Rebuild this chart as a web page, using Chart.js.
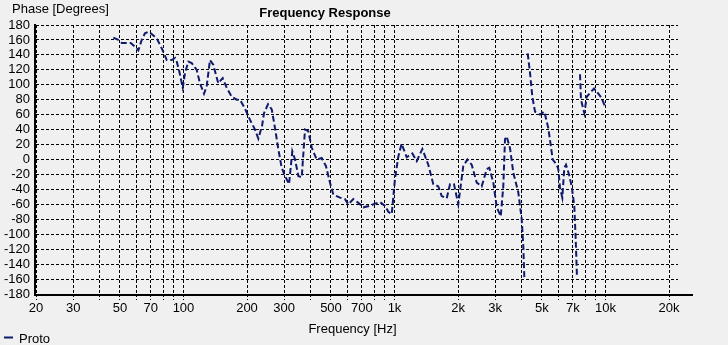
<!DOCTYPE html>
<html>
<head>
<meta charset="utf-8">
<script src="https://cdn.jsdelivr.net/npm/chart.js@4"></script>
<style>
  html, body { margin: 0; padding: 0; background: #f0f0f0; }
  #wrap { width: 728px; height: 345px; position: relative; }
</style>
</head>
<body>
<div id="wrap"><canvas id="myChart" width="728" height="345"></canvas></div>
<script>
// frequency points [Hz] (null phase = line break at phase wrap)
var freqHz = [
  46.5, 49.1, 51.0, 53.8, 56.2, 58.9, 61.1, 63.4, 65.7, 68.1,
  70.7, 74.7, 78.2, 80.9, 83.3, 87.9, 91.2, 92.9, 95.5, 99.2,
  101.7, 105.4, 109.4, 115.5, 119.7, 125.1, 128.8, 133.5, 138.4, 142.6,
  146.2, 153.4, 160.3, 169.3, 178.8, 185.3, 195.7, 206.7, 218.3, 226.3,
  235.7, 240.8, 251.6, 262.0, 271.5, 281.4, 292.0, 302.8, 316.4, 327.9,
  337.8, 350.2, 363.4, 376.6, 390.4, 405.2, 427.8, 451.8, 473.6, 494.8,
  512.9, 551.8, 582.9, 604.2, 638.1, 673.9, 711.7, 765.7, 808.7, 854.0,
  901.9, 935.0, 970.4, 1006, 1043, 1080, 1143, 1215, 1275, 1355,
  1446, 1527, 1613, 1674, 1768, 1833, 1914, 2006, 2118, 2214,
  2322, 2454, 2590, 2736, 2814, 2940, 3052, 3188, 3278, 3340,
  3402, 3528, 3658, 3862, 4008, 4078, 4124, 4140,
  4278, 4388, 4500, 4634, 4894, 5130, 5358, 5622, 5874, 5976,
  6088, 6242, 6380, 6498, 6716, 6916, 7114, 7224, 7328, 7400,
  7572, 7654, 7936, 8148, 8446, 8822, 9188, 9596, 9948
];
var phaseDeg = [
  163, 160, 156, 156, 156, 151, 146, 160, 169, 171,
  168, 162, 151, 142, 133, 133, 136, 131, 118, 96,
  116, 131, 129, 120, 102, 88, 98, 133, 127, 113,
  102, 109, 96, 84, 80, 80, 68, 53, 40, 28,
  45, 62, 74, 67, 42, 14, -11, -22, -33, 11,
  0, -22, -24, 40, 38, 16, 0, 2, -9, -31,
  -47, -51, -53, -60, -53, -58, -64, -62, -59, -57,
  -62, -70, -73, -25, 4, 21, 3, 8, -2, 14,
  -7, -33, -36, -49, -52, -33, -33, -60, -9, 0,
  -7, -31, -36, -13, -11, -31, -64, -76, -36, 27,
  31, 15, -18, -44, -80, -116, -158, null,
  142, 116, 84, 64, 60, 64, 42, 0, -7, -13,
  -38, -51, -11, -7, -20, -36, -62, -107, -158, null,
  114, 80, 62, 84, 89, 95, 89, 82, 71
];

// axis ticks
var gridFreqs = [20, 30, 40, 50, 60, 70, 80, 90, 100, 200, 300, 400, 500, 600, 700, 800, 900,
  1000, 2000, 3000, 4000, 5000, 6000, 7000, 8000, 9000, 10000, 20000];
var labelFreqs = [20, 30, 50, 70, 100, 200, 300, 500, 700, 1000, 2000, 3000, 5000, 7000, 10000, 20000];
var labelTexts = ['20', '30', '50', '70', '100', '200', '300', '500', '700', '1k', '2k', '3k', '5k', '7k', '10k', '20k'];
var seriesName = 'Proto';

var lineColor = '#101a6c';
var fontName = '"Liberation Sans", Arial, sans-serif';

// title, axis titles, legend and the black axis lines
var extras = {
    id: 'extras',
    afterDraw: function(chart) {
        var c = chart.ctx;
        var a = chart.chartArea;
        c.save();
        c.strokeStyle = '#000';
        c.lineWidth = 2;
        c.beginPath();
        c.moveTo(a.left - 1, a.top - 1);
        c.lineTo(a.left - 1, a.bottom + 1);
        c.lineTo(a.right + 15, a.bottom + 1);
        c.stroke();

        c.fillStyle = '#000';
        c.textBaseline = 'middle';
        c.font = 'bold 13px ' + fontName;
        c.textAlign = 'center';
        c.fillText('Frequency Response', 325, 13);

        c.font = '13px ' + fontName;
        c.textAlign = 'left';
        c.fillText('Phase [Degrees]', 12, 9);
        c.textAlign = 'center';
        c.fillText('Frequency [Hz]', (a.left + 669) / 2, 329);

        c.strokeStyle = lineColor;
        c.lineWidth = 2;
        c.beginPath();
        c.moveTo(4, 337.5);
        c.lineTo(13, 337.5);
        c.stroke();
        c.textAlign = 'left';
        c.fillText(seriesName, 19, 339);
        c.restore();
    }
};

var ctx = document.getElementById('myChart').getContext('2d');
var myChart = new Chart(ctx, {
    type: 'line',
    data: {
        datasets: [{
            label: seriesName,
            data: freqHz.map(function(f, i) { return { x: f, y: phaseDeg[i] }; }),
            borderColor: lineColor,
            borderWidth: 2,
            borderDash: [6, 3],
            pointRadius: 0,
            fill: false,
            spanGaps: false,
            tension: 0
        }]
    },
    options: {
        responsive: false,
        animation: false,
        layout: { padding: { top: 25, right: 50, left: 0, bottom: 0 } },
        plugins: {
            legend: { display: false },
            title: { display: false },
            tooltip: { enabled: false }
        },
        scales: {
            x: {
                type: 'logarithmic',
                min: 20,
                max: 22060,
                afterBuildTicks: function(scale) {
                    scale.ticks = gridFreqs.map(function(v) { return { value: v }; });
                },
                afterFit: function(scale) { scale.height = 51; },
                border: { display: false, dash: [3, 2] },
                grid: {
                    color: '#000',
                    lineWidth: 1,
                    tickLength: 6,
                    tickBorderDash: [3, 2],
                    tickColor: '#000'
                },
                ticks: {
                    autoSkip: false,
                    maxRotation: 0,
                    padding: 1,
                    color: '#000',
                    font: { family: fontName, size: 13 },
                    callback: function(v) {
                        var k = labelFreqs.indexOf(v);
                        return k >= 0 ? labelTexts[k] : '';
                    }
                }
            },
            y: {
                min: -180,
                max: 180,
                afterFit: function(scale) { scale.width = 36; },
                border: { display: false, dash: [3, 2] },
                grid: {
                    color: '#000',
                    lineWidth: 1,
                    drawTicks: false
                },
                ticks: {
                    stepSize: 20,
                    autoSkip: false,
                    padding: 6,
                    color: '#000',
                    font: { family: fontName, size: 13 }
                }
            }
        }
    },
    plugins: [extras]
});
</script>
</body>
</html>
